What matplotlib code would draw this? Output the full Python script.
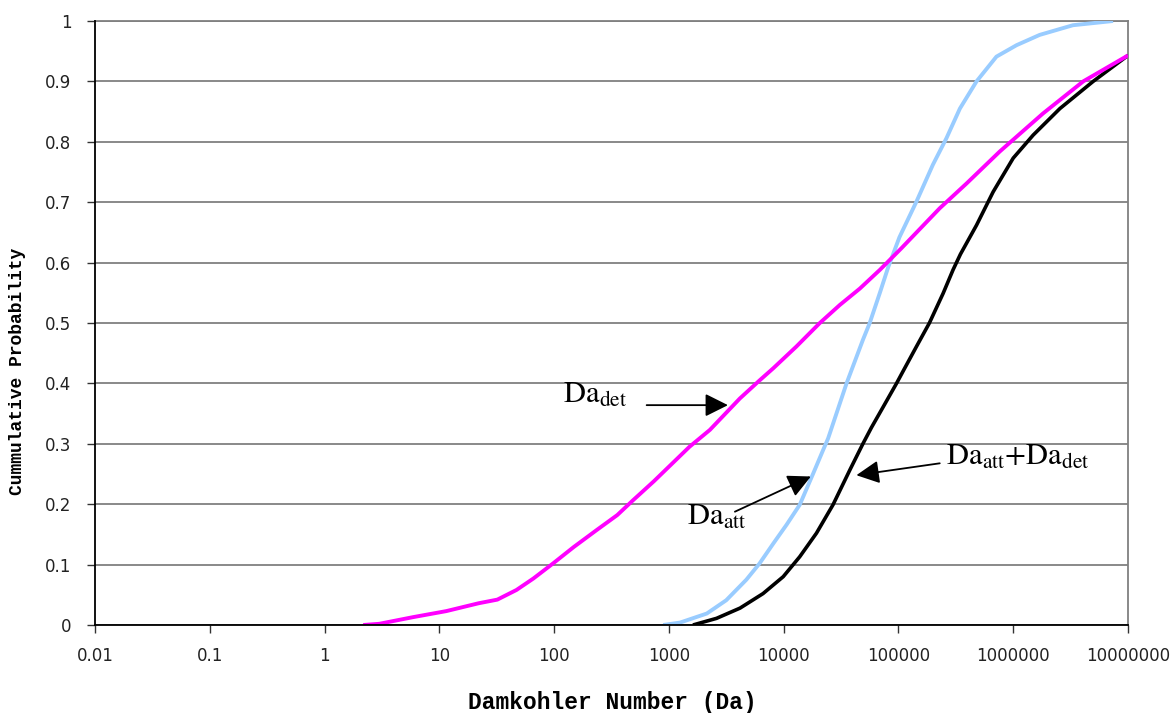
import matplotlib
matplotlib.use("Agg")
import matplotlib.pyplot as plt
from matplotlib.patches import ArrowStyle

# ---------------- data ----------------
det_x = [2.17, 3.0, 5.9, 11.5, 22, 32, 47, 66, 98, 148, 234, 355, 490, 560, 740,
         1510, 2275, 4150, 6170, 8110, 12900, 20650, 30900, 46100, 68900,
         106400, 229000, 392000, 764000, 1.82e6, 4.07e6, 1e7]
det_y = [0.0, 0.002, 0.013, 0.023, 0.036, 0.042, 0.058, 0.077, 0.102, 0.129, 0.157,
         0.182, 0.207, 0.217, 0.238, 0.295, 0.323, 0.375, 0.405, 0.425, 0.461,
         0.50, 0.53, 0.557, 0.588, 0.624, 0.69, 0.731, 0.784, 0.847, 0.90, 0.943]

att_x = [891, 1250, 2140, 3160, 4730, 6170, 8130, 10600, 13800, 18100, 22100,
         24400, 35300, 49000, 56200, 68900, 81300, 102000, 143500, 199500,
         262000, 343000, 479000, 714000, 1.07e6, 1.70e6, 3.31e6, 7.41e6]
att_y = [0.0, 0.004, 0.019, 0.041, 0.075, 0.102, 0.135, 0.166, 0.199, 0.251, 0.29,
         0.309, 0.40, 0.472, 0.50, 0.55, 0.592, 0.642, 0.701, 0.762, 0.806,
         0.855, 0.90, 0.941, 0.96, 0.977, 0.993, 1.0]

sum_x = [1620, 2600, 4170, 6610, 9910, 13800, 19300, 26900, 37800, 49000,
         58200, 73600, 96200, 109600, 143500, 186000, 245000, 299000, 347000,
         479000, 668000, 1.0e6, 1.49e6, 2.55e6, 4.97e6, 1e7]
sum_y = [0.0, 0.011, 0.028, 0.052, 0.08, 0.113, 0.152, 0.199, 0.257, 0.30,
         0.327, 0.361, 0.40, 0.42, 0.461, 0.50, 0.549, 0.588, 0.614,
         0.662, 0.717, 0.773, 0.811, 0.855, 0.90, 0.943]

x_ticks = [0.01, 0.1, 1, 10, 100, 1000, 10000, 100000, 1000000, 10000000]
x_tick_labels = ["0.01", "0.1", "1", "10", "100", "1000", "10000", "100000",
                 "1000000", "10000000"]
y_ticks = [0, 0.1, 0.2, 0.3, 0.4, 0.5, 0.6, 0.7, 0.8, 0.9, 1.0]
y_tick_labels = ["0", "0.1", "0.2", "0.3", "0.4", "0.5", "0.6", "0.7", "0.8", "0.9", "1"]

x_label = "Damkohler Number (Da)"
y_label = "Cummulative Probability"

# ---------------- figure ----------------
plt.rcParams["mathtext.fontset"] = "stix"
W, H = 1175, 713
fig = plt.figure(figsize=(W / 100, H / 100), dpi=100)
ax = fig.add_axes([95 / W, 1 - 625 / H, (1128 - 95) / W, (625 - 21) / H])

ax.plot(att_x, att_y, color="#99CCFF", lw=2.8, solid_capstyle="butt", zorder=3)
ax.plot(sum_x, sum_y, color="#000000", lw=2.6, solid_capstyle="butt", zorder=4)
ax.plot(det_x, det_y, color="#FF00FF", lw=2.8, solid_capstyle="butt", zorder=5)

ax.set_xscale("log")
ax.set_xlim(0.01, 1e7)
ax.set_ylim(0, 1)
ax.set_xticks(x_ticks)
ax.set_xticklabels(x_tick_labels)
ax.xaxis.set_minor_locator(matplotlib.ticker.NullLocator())
ax.set_yticks(y_ticks)
ax.set_yticklabels(y_tick_labels)

ax.yaxis.grid(True, color="#808080", lw=1.3, zorder=1)
ax.set_axisbelow(True)
for s in ["top", "right"]:
    ax.spines[s].set_color("#808080")
    ax.spines[s].set_linewidth(1.3)
for s in ["left", "bottom"]:
    ax.spines[s].set_color("#000000")
    ax.spines[s].set_linewidth(1.3)
    ax.spines[s].set_zorder(6)

ax.tick_params(axis="both", direction="out", length=6, width=1.0, color="#333333",
               labelsize=12, labelcolor="#222222")
ax.tick_params(axis="x", pad=10)
ax.tick_params(axis="y", pad=11)

fig.text(612 / W, 1 - 703 / H, x_label, ha="center", va="center",
         fontfamily="Liberation Mono", fontweight="bold", fontsize=16.5)
fig.text(18 / W, 1 - 371 / H, y_label, ha="center", va="center", rotation=90,
         fontfamily="Liberation Mono", fontweight="bold", fontsize=13)

# ---------------- annotations ----------------
astyle = ArrowStyle("-|>", head_length=1.0, head_width=0.5)
aprops = dict(arrowstyle=astyle, mutation_scale=14, color="black", lw=1.3,
              shrinkA=0, shrinkB=0)
tfont = dict(fontfamily="STIXGeneral", fontsize=22, color="black", va="baseline",
             ha="left", zorder=7)

ax.text(119, 0.3675, r"Da$_{\mathrm{det}}$", **tfont)
ax.annotate("", xy=(3270, 0.364), xytext=(640, 0.364), arrowprops=aprops, zorder=7)

ax.text(1436, 0.1656, r"Da$_{\mathrm{att}}$", **tfont)
ax.annotate("", xy=(17260, 0.2459), xytext=(3760, 0.1876), arrowprops=aprops, zorder=7)

ax.text(262000, 0.265, r"Da$_{\mathrm{att}}$+Da$_{\mathrm{det}}$", **tfont)
ax.annotate("", xy=(43000, 0.248), xytext=(229000, 0.2677), arrowprops=aprops, zorder=7)

fig.savefig("out.png", dpi=100, facecolor="white")
